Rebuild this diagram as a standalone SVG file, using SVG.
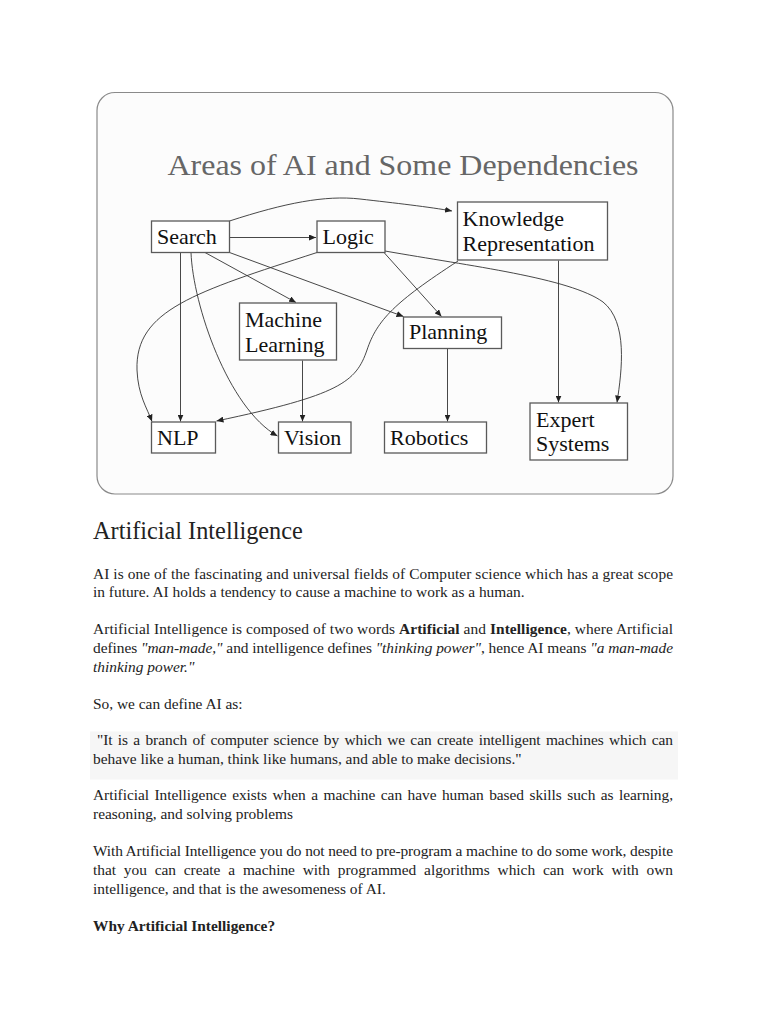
<svg xmlns="http://www.w3.org/2000/svg" width="768" height="1024" viewBox="0 0 768 1024">
<defs>
<style>
.box{fill:#ffffff;stroke:#5a5a5a;stroke-width:1.3}
.nt{font-family:"Liberation Serif","Times New Roman",serif;font-size:22px;fill:#111}
.ttl{font-family:"Liberation Serif","Times New Roman",serif;font-size:30px;fill:#666}
.e{fill:none;stroke:#333;stroke-width:0.9;marker-end:url(#ah)}
.body{font-family:"Liberation Serif","Times New Roman",serif;font-size:15.4px;fill:#222}
.h1{font-family:"Liberation Serif","Times New Roman",serif;font-size:24.3px;fill:#222}
</style>
<marker id="ah" markerUnits="userSpaceOnUse" markerWidth="8" markerHeight="6" refX="7" refY="3" orient="auto">
<path d="M0,0 L7,3 L0,6 z" fill="#222"/>
</marker>
</defs>
<rect width="768" height="1024" fill="#ffffff"/>
<g id="frame">
<rect x="97" y="92.5" width="576" height="401.5" rx="18" ry="18" fill="#fcfcfc" stroke="#8a8a8a" stroke-width="1.2"/>
<text class="ttl" x="167.5" y="175" textLength="471" lengthAdjust="spacingAndGlyphs">Areas of AI and Some Dependencies</text>
</g>
<g id="connectors">
<path class="e" d="M229.5,237.5 L316,237.5"/>
<path class="e" d="M229.5,221 C285,203 325,195 360,199 S430,207 452,211"/>
<path class="e" d="M180.5,252.5 L180.5,421.5"/>
<path class="e" d="M191,252.5 C193,305 228,408 277.5,436"/>
<path class="e" d="M205,252.5 L296,302.5"/>
<path class="e" d="M229.5,252.5 L403.5,316.5"/>
<path class="e" d="M317,252.5 C195,292 135,310 137,370 C138,395 147,408 152,421.5"/>
<path class="e" d="M384,252.5 L441.5,316.5"/>
<path class="e" d="M385,251 C470,266 570,278 603,302 C628,322 622,370 617,402.5"/>
<path class="e" d="M458,261 C395,302 377,320 367,350 C356,382 340,395 216.5,421"/>
<path class="e" d="M558.5,260.5 L558.5,402.5"/>
<path class="e" d="M302.5,360.5 L302.5,421.5"/>
<path class="e" d="M447.5,348.5 L447.5,421.5"/>
</g>
<g id="search"><rect class="box" x="151.5" y="221" width="78" height="31.5"/><text class="nt" x="157" y="244">Search</text></g>
<g id="logic"><rect class="box" x="317" y="221" width="68" height="31.5"/><text class="nt" x="322.5" y="244">Logic</text></g>
<g id="knowledge"><rect class="box" x="457.5" y="202" width="150" height="58"/><text class="nt" x="462.5" y="225.5">Knowledge</text><text class="nt" x="462.5" y="251">Representation</text></g>
<g id="ml"><rect class="box" x="239.5" y="303" width="97" height="57"/><text class="nt" x="245" y="326.5">Machine</text><text class="nt" x="245" y="352">Learning</text></g>
<g id="planning"><rect class="box" x="403.5" y="317" width="98" height="31.5"/><text class="nt" x="409" y="338.5">Planning</text></g>
<g id="nlp"><rect class="box" x="151.5" y="422" width="64" height="31"/><text class="nt" x="157" y="445">NLP</text></g>
<g id="vision"><rect class="box" x="278.5" y="422" width="72.5" height="31"/><text class="nt" x="284" y="445">Vision</text></g>
<g id="robotics"><rect class="box" x="384.5" y="422" width="102" height="31"/><text class="nt" x="390" y="445">Robotics</text></g>
<g id="expert"><rect class="box" x="530" y="403" width="97.5" height="57"/><text class="nt" x="536" y="427">Expert</text><text class="nt" x="536" y="451">Systems</text></g>
<g id="article">
<text class="h1" x="93" y="538.5">Artificial Intelligence</text>
<text class="body" x="93" y="578.5" textLength="580" lengthAdjust="spacing">AI is one of the fascinating and universal fields of Computer science which has a great scope</text>
<text class="body" x="93" y="597">in future. AI holds a tendency to cause a machine to work as a human.</text>
<text class="body" x="93" y="634" textLength="580" lengthAdjust="spacing">Artificial Intelligence is composed of two words <tspan font-weight="bold">Artificial</tspan> and <tspan font-weight="bold">Intelligence</tspan>, where Artificial</text>
<text class="body" x="93" y="652.5" textLength="580" lengthAdjust="spacing">defines <tspan font-style="italic">"man-made,"</tspan> and intelligence defines <tspan font-style="italic">"thinking power"</tspan>, hence AI means <tspan font-style="italic">"a man-made</tspan></text>
<text class="body" x="93" y="671.5" font-style="italic">thinking power."</text>
<text class="body" x="93" y="708.5">So, we can define AI as:</text>
<rect x="90" y="731.5" width="588" height="48" fill="#f6f6f6"/>
<text class="body" x="97" y="745" textLength="576" lengthAdjust="spacing" word-spacing="1.5">"It is a branch of computer science by which we can create intelligent machines which can</text>
<text class="body" x="93" y="764">behave like a human, think like humans, and able to make decisions."</text>
<text class="body" x="93" y="800" textLength="580" lengthAdjust="spacing" word-spacing="1.7">Artificial Intelligence exists when a machine can have human based skills such as learning,</text>
<text class="body" x="93" y="819">reasoning, and solving problems</text>
<text class="body" x="93" y="856" textLength="580" lengthAdjust="spacing">With Artificial Intelligence you do not need to pre-program a machine to do some work, despite</text>
<text class="body" x="93" y="875" textLength="580" lengthAdjust="spacing" word-spacing="4">that you can create a machine with programmed algorithms which can work with own</text>
<text class="body" x="93" y="894">intelligence, and that is the awesomeness of AI.</text>
<text class="body" x="93" y="931" font-weight="bold">Why Artificial Intelligence?</text>
</g>
</svg>
